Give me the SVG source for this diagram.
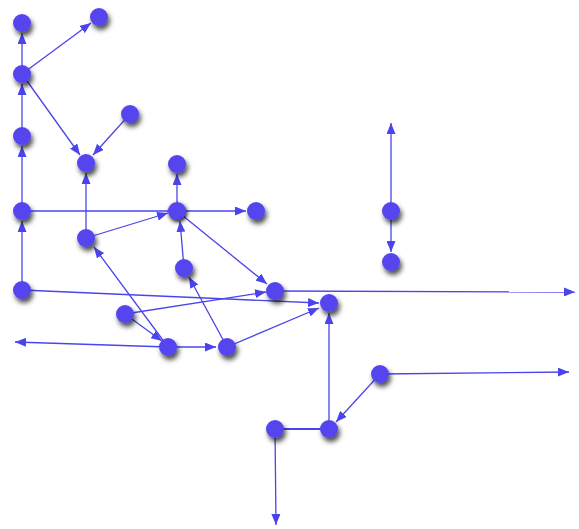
<svg xmlns="http://www.w3.org/2000/svg" width="579" height="529" viewBox="0 0 579 529">
<style>
.e{stroke:#4a44ee;stroke-width:1.3;fill:none}
.n{fill:#5544ee;filter:url(#sh)}
.nd{fill:#5544ee;filter:url(#sh2)}
</style>
<defs>
<filter id="sh" x="-1" y="-1" width="3" height="3">
<feDropShadow dx="2" dy="4" stdDeviation="2.8" flood-color="#000" flood-opacity="0.7"/>
</filter>
<filter id="sh2" x="-1" y="-1" width="3" height="3">
<feDropShadow dx="1" dy="2" stdDeviation="2.2" flood-color="#000" flood-opacity="1"/>
</filter>
<marker id="a" viewBox="0 0 11 9" refX="11" refY="4.5" markerWidth="11" markerHeight="9" markerUnits="userSpaceOnUse" orient="auto">
<path d="M0,0 L11,4.5 L0,9 Z" fill="#4a44ee"/>
</marker>
</defs>
<g id="connectors">
<line class="e" x1="22" y1="74" x2="22" y2="33" marker-end="url(#a)"/>
<line class="e" x1="22" y1="74" x2="91" y2="23" marker-end="url(#a)"/>
<line class="e" x1="22" y1="74" x2="80" y2="155" marker-end="url(#a)"/>
<line class="e" x1="130" y1="114" x2="93" y2="155" marker-end="url(#a)"/>
<line class="e" x1="22" y1="136" x2="22" y2="84" marker-end="url(#a)"/>
<line class="e" x1="22" y1="211" x2="22" y2="146" marker-end="url(#a)"/>
<line class="e" x1="22" y1="290" x2="22" y2="221" marker-end="url(#a)"/>
<line class="e" x1="22" y1="211" x2="246" y2="211" marker-end="url(#a)"/>
<line class="e" x1="86" y1="238" x2="86" y2="173" marker-end="url(#a)"/>
<line class="e" x1="86" y1="238" x2="168" y2="213" marker-end="url(#a)"/>
<line class="e" x1="177" y1="211" x2="177" y2="174" marker-end="url(#a)"/>
<line class="e" x1="177" y1="211" x2="267" y2="284" marker-end="url(#a)"/>
<line class="e" x1="184" y1="268" x2="180" y2="221" marker-end="url(#a)"/>
<line class="e" x1="22" y1="290" x2="319" y2="303" marker-end="url(#a)"/>
<line class="e" x1="275" y1="291" x2="575" y2="292" marker-end="url(#a)"/>
<line class="e" x1="125" y1="314" x2="266" y2="292" marker-end="url(#a)"/>
<line class="e" x1="125" y1="314" x2="162" y2="341" marker-end="url(#a)"/>
<line class="e" x1="168" y1="347" x2="94" y2="247" marker-end="url(#a)"/>
<line class="e" x1="168" y1="347" x2="15" y2="342" marker-end="url(#a)"/>
<line class="e" x1="168" y1="347" x2="216" y2="347" marker-end="url(#a)"/>
<line class="e" x1="227" y1="347" x2="189" y2="277" marker-end="url(#a)"/>
<line class="e" x1="227" y1="347" x2="319" y2="308" marker-end="url(#a)"/>
<line class="e" x1="329" y1="429" x2="329" y2="313" marker-end="url(#a)"/>
<line class="e" x1="275" y1="429" x2="329" y2="429" style="stroke-width:2.2"/>
<line class="e" x1="275" y1="429" x2="276" y2="525" marker-end="url(#a)"/>
<line class="e" x1="380" y1="374" x2="336" y2="422" marker-end="url(#a)"/>
<line class="e" x1="380" y1="374" x2="569" y2="372" marker-end="url(#a)"/>
<line class="e" x1="391" y1="211" x2="391" y2="123" marker-end="url(#a)"/>
<line class="e" x1="391" y1="211" x2="391" y2="252" marker-end="url(#a)"/>
</g>
<g id="n1"><circle class="n" cx="22" cy="23" r="9"/></g>
<g id="n2"><circle class="n" cx="99" cy="17" r="9"/></g>
<g id="n3"><circle class="n" cx="22" cy="74" r="9"/></g>
<g id="n4"><circle class="n" cx="22" cy="136" r="9"/></g>
<g id="n5"><circle class="n" cx="130" cy="114" r="9"/></g>
<g id="n6"><circle class="n" cx="86" cy="163" r="9"/></g>
<g id="n7"><circle class="n" cx="177" cy="164" r="9"/></g>
<g id="n8"><circle class="n" cx="22" cy="211" r="9"/></g>
<g id="n9"><circle class="nd" cx="177" cy="211" r="9"/></g>
<g id="n10"><circle class="n" cx="256" cy="211" r="9"/></g>
<g id="n11"><circle class="n" cx="391" cy="211" r="9"/></g>
<g id="n12"><circle class="n" cx="391" cy="262" r="9"/></g>
<g id="n13"><circle class="n" cx="86" cy="238" r="9"/></g>
<g id="n14"><circle class="n" cx="184" cy="268" r="9"/></g>
<g id="n15"><circle class="n" cx="22" cy="290" r="9"/></g>
<g id="n16"><circle class="n" cx="275" cy="291" r="9"/></g>
<g id="n17"><circle class="n" cx="329" cy="303" r="9"/></g>
<g id="n18"><circle class="n" cx="125" cy="314" r="9"/></g>
<g id="n19"><circle class="n" cx="168" cy="347" r="9"/></g>
<g id="n20"><circle class="n" cx="227" cy="347" r="9"/></g>
<g id="n21"><circle class="n" cx="380" cy="374" r="9"/></g>
<g id="n22"><circle class="n" cx="275" cy="429" r="9"/></g>
<g id="n23"><circle class="n" cx="329" cy="429" r="9"/></g>
</svg>
